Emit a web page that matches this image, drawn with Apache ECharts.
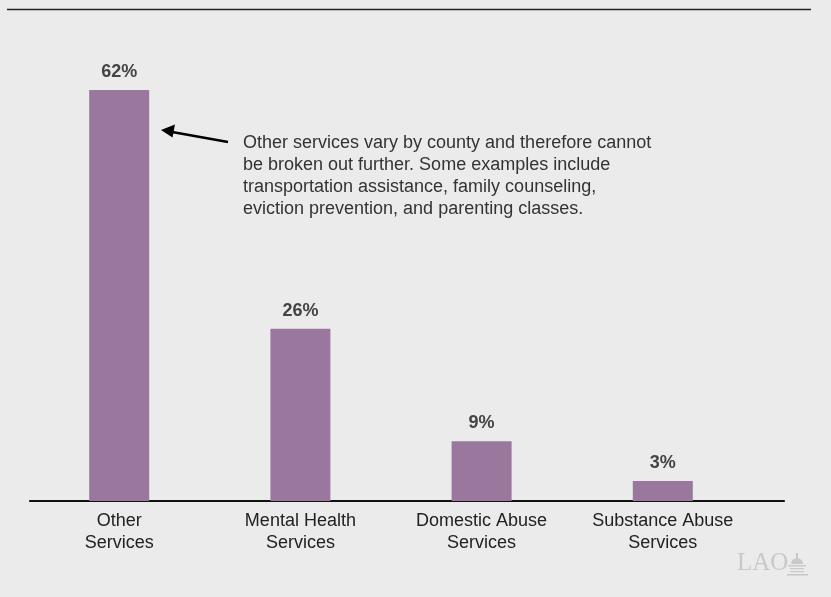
<!DOCTYPE html>
<html><head><meta charset="utf-8">
<script src="https://cdn.jsdelivr.net/npm/echarts@6/dist/echarts.min.js"></script>
<style>html,body{margin:0;padding:0;background:#ebebeb}#c{width:831px;height:597px}</style>
</head><body><div id="c"></div>
<script>
const categories = ['Other\nServices', 'Mental Health\nServices', 'Domestic Abuse\nServices', 'Substance Abuse\nServices'];
const shares = [62, 26, 9, 3];
const yTicks = { min: 0, max: 70 };
const noteText = 'Other services vary by county and therefore cannot\nbe broken out further. Some examples include\ntransportation assistance, family counseling,\neviction prevention, and parenting classes.';

const chart = echarts.init(document.getElementById('c'), null, { renderer: 'canvas' });
const font = '"Liberation Sans", Arial, Helvetica, sans-serif';
const logoGray = '#c9c9c9';
chart.setOption({
  backgroundColor: '#ebebeb',
  animation: false,
  grid: [
    { left: 28.6, width: 724.8, top: 37, bottom: 96 },
    { left: 30, right: 47, top: 37, bottom: 96 }
  ],
  xAxis: [
    {
      type: 'category', data: categories, gridIndex: 0,
      axisLine: { show: false }, axisTick: { show: false },
      axisLabel: { interval: 0, hideOverlap: false, color: '#222', fontFamily: font, fontSize: 18, lineHeight: 22, margin: 9 }
    },
    {
      type: 'category', data: [''], gridIndex: 1,
      axisLine: { show: true, lineStyle: { color: '#111', width: 2.2 } },
      axisTick: { show: false }, axisLabel: { show: false }
    }
  ],
  yAxis: [
    { type: 'value', gridIndex: 0, min: yTicks.min, max: yTicks.max, show: false, splitLine: { show: false } },
    { type: 'value', gridIndex: 1, min: yTicks.min, max: yTicks.max, show: false, splitLine: { show: false } }
  ],
  series: [{
    type: 'bar', data: shares, xAxisIndex: 0, yAxisIndex: 0,
    barWidth: 60,
    itemStyle: { color: '#9a789e' },
    label: {
      show: true, position: 'top', distance: 9,
      formatter: p => p.value + '%',
      fontFamily: font, fontSize: 18, fontWeight: 'bold', color: '#444'
    }
  }],
  graphic: [
    { type: 'line', shape: { x1: 7, y1: 9.5, x2: 811, y2: 9.5 }, style: { stroke: '#222', lineWidth: 1.6 } },
    { type: 'text', left: 243, top: 132, style: { text: noteText, fill: '#333', font: '18px ' + font, lineHeight: 22 } },
    { type: 'line', shape: { x1: 228, y1: 142, x2: 168, y2: 131.3 }, style: { stroke: '#000', lineWidth: 2.6 } },
    { type: 'polygon', shape: { points: [[161, 130], [175, 124.5], [172.5, 137.5]] }, style: { fill: '#000' } },
    { type: 'text', left: 737, top: 551, style: { text: 'LAO', fill: logoGray, font: '25px "Liberation Serif", "DejaVu Serif", serif' } },
    { type: 'group', left: 787, top: 553, children: [
      { type: 'rect', shape: { x: 9, y: 0, width: 2, height: 5 }, style: { fill: logoGray } },
      { type: 'sector', shape: { cx: 10, cy: 11, r: 6, r0: 0, startAngle: Math.PI, endAngle: 2 * Math.PI }, style: { fill: logoGray } },
      { type: 'rect', shape: { x: 1, y: 12, width: 18, height: 1.5 }, style: { fill: logoGray } },
      { type: 'rect', shape: { x: 3, y: 15, width: 14, height: 1.2 }, style: { fill: logoGray } },
      { type: 'rect', shape: { x: 3, y: 18, width: 14, height: 1.2 }, style: { fill: logoGray } },
      { type: 'rect', shape: { x: 0, y: 21, width: 21, height: 1.6 }, style: { fill: logoGray } }
    ] }
  ]
});
</script></body></html>
